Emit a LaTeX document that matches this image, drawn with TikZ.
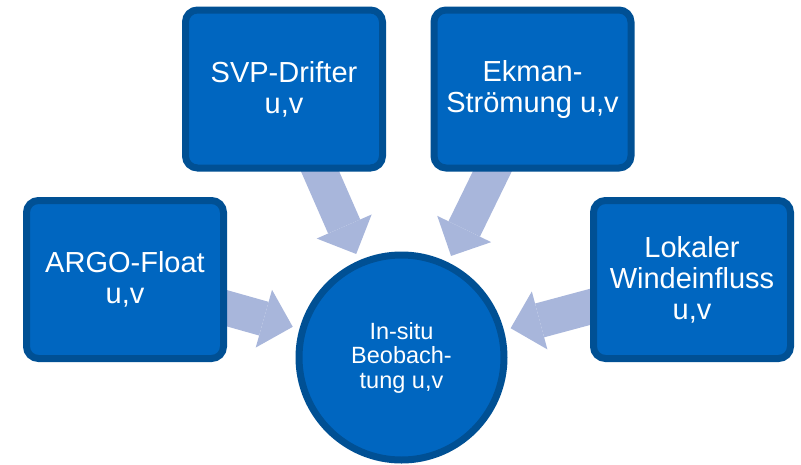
\documentclass[tikz,border=0pt]{standalone}
\usepackage{fontspec}
\setmainfont{Liberation Sans}
\usetikzlibrary{arrows.meta,backgrounds,shadows}
\definecolor{boxfill}{RGB}{0,102,192}
\definecolor{boxline}{RGB}{0,80,148}
\definecolor{arrowc}{RGB}{168,182,219}
\begin{document}
\begin{tikzpicture}[x=1pt,y=-1pt,
  srcbox/.style={draw=boxline, fill=boxfill, line width=7pt, rounded corners=12pt,
    minimum width=197pt, minimum height=158pt, text=white, align=center,
    font=\fontsize{29}{31}\selectfont,
    drop shadow={shadow xshift=1pt, shadow yshift=-3pt, opacity=0.15, fill=black}},
  hub/.style={circle, draw=boxline, fill=boxfill, line width=7pt, minimum size=205pt,
    text=white, align=center, font=\fontsize{23.5}{24.5}\selectfont,
    drop shadow={shadow xshift=1pt, shadow yshift=-3pt, opacity=0.15, fill=black}},
  flow/.style={draw=arrowc, line width=35pt,
    -{Triangle[length=30pt 0 0, width=60pt 0 0, line width=0pt 0 0]}, shorten >=7pt}]
\useasboundingbox (0,0) rectangle (801,464);

\node[srcbox] (argo)  at (125,279.5) {ARGO-Float\\u,v};
\node[srcbox] (svp)   at (284,89)    {SVP-Drifter\\u,v};
\node[srcbox] (ekman) at (532.5,89)  {Ekman-\\Strömung u,v};
\node[srcbox] (wind)  at (692,279.5) {Lokaler\\Windeinfluss\\u,v};
\node[hub]    (c)     at (401.5,357.5) {In-situ\\Beobach-\\tung u,v};

\begin{pgfonlayer}{background}
  \draw[flow] (argo.center)  -- (c);
  \draw[flow] (svp.center)   -- (c);
  \draw[flow] (ekman.center) -- (c);
  \draw[flow] (wind.center)  -- (c);
\end{pgfonlayer}
\end{tikzpicture}
\end{document}
